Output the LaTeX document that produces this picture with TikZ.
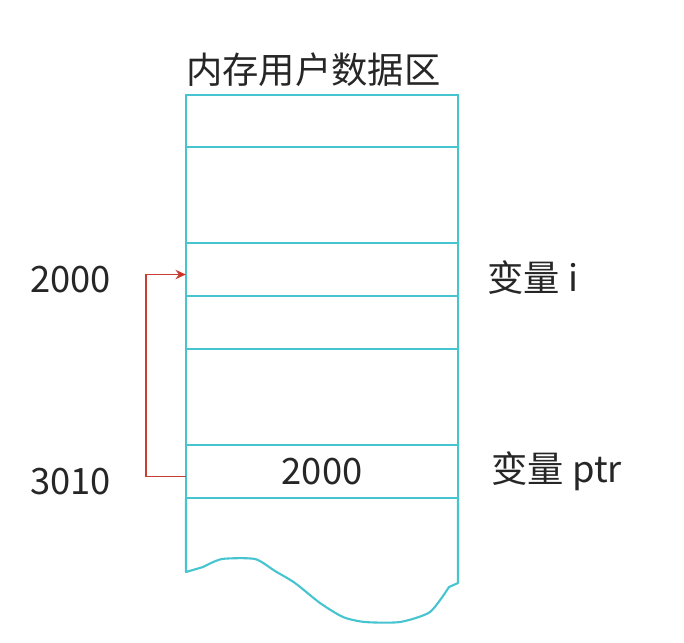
\documentclass[tikz,border=0pt]{standalone}
\usepackage{fontspec}
\setmainfont{Noto Sans CJK SC}
\usetikzlibrary{positioning}
\usetikzlibrary{arrows.meta}
\definecolor{memcyan}{RGB}{70,196,208}
\definecolor{ptrred}{RGB}{200,62,50}

\begin{document}
\begin{tikzpicture}[
    x=0.03cm, y=-0.03cm,
    cell/.style={draw=memcyan, line width=1.8pt, minimum width=8.16cm, inner sep=0pt, outer sep=0pt},
    memtext/.style={font=\fontsize{31}{36}\selectfont, text=black!85, inner sep=0pt},
    ptrarrow/.style={draw=ptrred, line width=1.2pt, -{Stealth[length=9pt, width=8pt, fill=red!90!black]}},
  ]
  \useasboundingbox (0,0) rectangle (684,642);

  \node[cell, minimum height=1.56cm] (C1) at (322,121) {};
  \node[cell, minimum height=2.88cm, below=0pt of C1] (C2) {};
  \node[cell, minimum height=1.59cm, below=0pt of C2] (C3) {};
  \node[cell, minimum height=1.59cm, below=0pt of C3] (C4) {};
  \node[cell, minimum height=2.88cm, below=0pt of C4] (C5) {};
  \node[cell, minimum height=1.59cm, below=0pt of C5, memtext] (C6) {2000};

  \node[memtext, above right=0.25cm and 0cm of C1.north west] (TITLE) {内存用户数据区};
  \node[memtext, left=2.25cm of C3, yshift=-0.3cm] (ADDRI) {2000};
  \node[memtext, left=2.25cm of C6, yshift=-0.3cm] (ADDRPTR) {3010};
  \node[memtext, right=0.87cm of C3, yshift=-0.25cm] (VARI) {变量 i};
  \node[memtext, right=1cm of C6] (VARPTR) {变量 ptr};

  \coordinate[left=1.2cm of C6.west, yshift=-0.15cm] (TURN);
  \draw[ptrarrow] ([yshift=-0.15cm]C6.west) -- (TURN) |- ([yshift=-0.15cm]C3.west);

  \draw[memcyan, line width=1.8pt, line join=round] (C6.south west) -- (186,572)
    -- plot[smooth, tension=0.4] coordinates {(203,567) (222,559) (255,559) (275,571) (295,583) (320,603) (343,617) (365,622) (400,622) (430,612) (449,587)}
    -- (458,583) -- (C6.south east);

\end{tikzpicture}
\end{document}
